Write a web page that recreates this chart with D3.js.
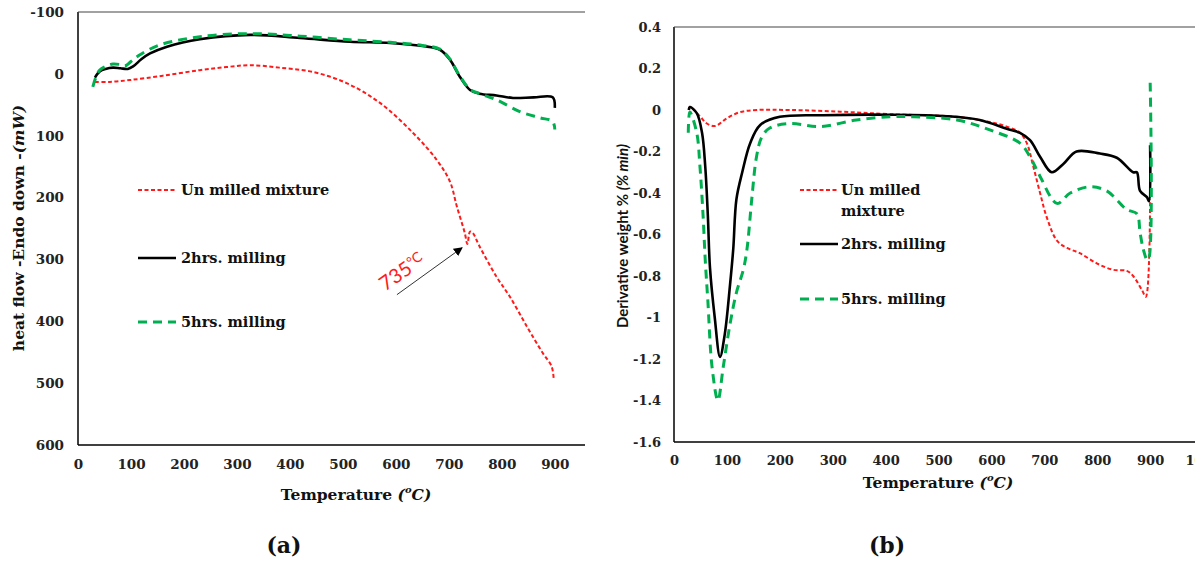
<!DOCTYPE html>
<html>
<head>
<meta charset="utf-8">
<script src="https://cdn.jsdelivr.net/npm/d3@7"></script>
<style>
  html, body { margin: 0; padding: 0; background: #fff; }
  svg { display: block; }
  .serif { font-family: "DejaVu Serif", "Liberation Serif", serif; font-weight: bold; }
  .sans { font-family: Lato, "Open Sans", sans-serif; }
</style>
</head>
<body>
<svg id="chart" width="1195" height="563"></svg>
<script>
// ---------- (a) DSC heat flow ----------
const tempUnmilledA = [32, 60, 98, 160, 230, 280, 325, 381, 444, 507, 570, 633, 677, 702, 715, 730, 735, 740, 745, 758, 790, 815, 847, 877, 894, 898];
const heatUnmilled  = [13, 13, 10, 3, -6, -11, -14, -10, -3, 15, 47, 96, 139, 174, 214, 257, 275, 255, 257, 279, 328, 360, 408, 451, 473, 494];

const temp2hA = [32, 41, 52, 66, 80, 94, 104, 120, 136, 168, 230, 325, 419, 513, 589, 650, 683, 702, 721, 740, 758, 790, 821, 860, 896, 900];
const heat2h  = [6, -4, -8, -10, -9, -8, -12, -24, -33, -44, -56, -63, -58, -52, -50, -45, -39, -23, 5, 26, 32, 35, 39, 38, 38, 55];

const temp5hA = [28, 34, 41, 55, 66, 80, 89, 100, 117, 155, 230, 325, 419, 513, 589, 650, 683, 702, 721, 740, 758, 790, 834, 872, 896, 900];
const heat5h  = [21, 5, -6, -13, -16, -15, -13, -20, -31, -47, -60, -65, -61, -55, -51, -46, -40, -24, 4, 25, 32, 42, 61, 71, 77, 90];

const ticksXA = [0, 100, 200, 300, 400, 500, 600, 700, 800, 900];
const ticksYA = [-100, 0, 100, 200, 300, 400, 500, 600];

// marker for the 735 °C peak
const peakTemp = 735;
const arrowFrom = [602, 357];
const arrowTo   = [725, 281];

// ---------- (b) DTG derivative weight ----------
const tempUnmilledB = [28, 30, 49, 62, 78, 100, 125, 157, 219, 314, 408, 535, 597, 629, 654, 667, 679, 692, 705, 724, 743, 767, 800, 830, 856, 868, 885, 892, 900];
const dtgUnmilled   = [0.0, 0.015, -0.03, -0.065, -0.077, -0.04, -0.01, 0.0, 0.0, -0.008, -0.02, -0.033, -0.058, -0.08, -0.11, -0.16, -0.27, -0.40, -0.52, -0.63, -0.665, -0.69, -0.74, -0.77, -0.775, -0.80, -0.87, -0.90, -0.43];

const temp2hB = [28, 30, 43, 53, 59, 64, 68, 77, 87, 96, 106, 112, 118, 129, 144, 163, 200, 282, 408, 516, 578, 629, 654, 673, 692, 714, 736, 761, 805, 837, 868, 875, 881, 894, 898, 900];
const dtg2h   = [0.0, 0.014, -0.015, -0.11, -0.27, -0.51, -0.76, -1.0, -1.19, -1.08, -0.84, -0.67, -0.43, -0.30, -0.16, -0.072, -0.033, -0.025, -0.023, -0.03, -0.048, -0.09, -0.11, -0.145, -0.225, -0.30, -0.26, -0.20, -0.21, -0.23, -0.30, -0.30, -0.39, -0.42, -0.44, -0.17];

const temp5hB = [27, 30, 43, 49, 55, 59, 64, 72, 83, 93, 106, 118, 131, 138, 147, 156, 166, 181, 219, 276, 345, 408, 452, 535, 597, 654, 673, 692, 724, 749, 786, 818, 856, 875, 881, 887, 894, 897, 900];
const dtg5h   = [-0.11, -0.01, -0.11, -0.27, -0.51, -0.72, -0.92, -1.24, -1.40, -1.24, -1.03, -0.88, -0.77, -0.67, -0.43, -0.225, -0.13, -0.087, -0.065, -0.08, -0.048, -0.033, -0.033, -0.048, -0.096, -0.16, -0.225, -0.32, -0.45, -0.40, -0.37, -0.39, -0.48, -0.50, -0.59, -0.67, -0.72, -0.72, 0.15];

const ticksXB = [0, 100, 200, 300, 400, 500, 600, 700, 800, 900, 1000];
const ticksYB = [0.4, 0.2, 0, -0.2, -0.4, -0.6, -0.8, -1, -1.2, -1.4, -1.6];

const seriesNames = ["Un milled mixture", "2hrs. milling", "5hrs. milling"];

// ---------- styles ----------
const styleUnmilled = { stroke: "#ff1a1a", width: 2, dash: "4,2.5" };
const style2h       = { stroke: "#000000", width: 2.6, dash: null };
const style5h       = { stroke: "#00b050", width: 3, dash: "9,6" };

const plainNumber = d => String(d);

const svg = d3.select("#chart");
svg.append("rect").attr("width", 1195).attr("height", 563).attr("fill", "#fff");

function zip(xs, ys) { return xs.map((x, i) => [x, ys[i]]); }

function drawSeries(g, x, y, pts, st) {
  const line = d3.line().x(d => x(d[0])).y(d => y(d[1])).curve(d3.curveCatmullRom.alpha(0.5));
  const p = g.append("path").datum(pts)
    .attr("d", line).attr("fill", "none")
    .attr("stroke", st.stroke).attr("stroke-width", st.width)
    .attr("stroke-linejoin", "round");
  if (st.dash) p.attr("stroke-dasharray", st.dash);
}

function legendLine(g, x1, x2, yy, st) {
  const l = g.append("line").attr("x1", x1).attr("x2", x2).attr("y1", yy).attr("y2", yy)
    .attr("stroke", st.stroke).attr("stroke-width", st.width);
  if (st.dash) l.attr("stroke-dasharray", st.dash);
}

function tempTitle(g, cx, cy) {
  const t = g.append("text").attr("class", "serif").attr("font-size", 15.5)
    .attr("x", cx).attr("y", cy).attr("text-anchor", "middle").attr("fill", "#111");
  t.append("tspan").text("Temperature ");
  t.append("tspan").attr("font-style", "italic").text("(");
  t.append("tspan").attr("font-style", "italic").attr("font-size", 10).attr("dy", -7).text("o");
  t.append("tspan").attr("font-style", "italic").attr("dy", 7).text("C)");
}

// ================= Panel (a) =================
{
  const x = d3.scaleLinear().domain([0, 957]).range([78, 585]);
  const y = d3.scaleLinear().domain([-100, 600]).range([12, 445]);
  const g = svg.append("g");

  // frame lines: left, bottom and top
  g.append("line").attr("x1", 78).attr("x2", 78).attr("y1", y(-100)).attr("y2", y(600)).attr("stroke", "#000").attr("stroke-width", 1.5);
  g.append("line").attr("x1", 78).attr("x2", x.range()[1]).attr("y1", y(600)).attr("y2", y(600)).attr("stroke", "#000").attr("stroke-width", 1.5);
  g.append("line").attr("x1", 78).attr("x2", x.range()[1]).attr("y1", y(-100)).attr("y2", y(-100)).attr("stroke", "#444").attr("stroke-width", 1.2);

  const ax = d3.axisBottom(x).tickValues(ticksXA).tickSize(0).tickPadding(14).tickFormat(plainNumber);
  g.append("g").attr("transform", `translate(0,${y(600)})`).call(ax)
    .call(s => s.select(".domain").remove())
    .selectAll("text").attr("class", "serif").attr("font-size", 13.5).attr("fill", "#222");
  const ay = d3.axisLeft(y).tickValues(ticksYA).tickSize(0).tickPadding(14).tickFormat(plainNumber);
  g.append("g").attr("transform", `translate(78,0)`).call(ay)
    .call(s => s.select(".domain").remove())
    .selectAll("text").attr("class", "serif").attr("font-size", 13.5).attr("fill", "#222");

  drawSeries(g, x, y, zip(tempUnmilledA, heatUnmilled), styleUnmilled);
  drawSeries(g, x, y, zip(temp2hA, heat2h), style2h);
  drawSeries(g, x, y, zip(temp5hA, heat5h), style5h);

  // axis titles
  tempTitle(g, 356, 500);

  const yt = g.append("text").attr("class", "serif").attr("font-size", 15.5)
    .attr("transform", "translate(24,228) rotate(-90)").attr("text-anchor", "middle").attr("fill", "#111");
  yt.append("tspan").text("heat flow -Endo down -");
  yt.append("tspan").attr("font-style", "italic").text("(mW)");

  // legend
  const lg = g.append("g");
  const legY = [190, 258, 322];
  const legStyles = [styleUnmilled, style2h, style5h];
  legY.forEach((ly, i) => {
    legendLine(lg, 138, 176, ly, legStyles[i]);
    lg.append("text").attr("class", "serif").attr("font-size", 14.5).attr("x", 181).attr("y", ly + 5)
      .attr("fill", "#111").text(seriesNames[i]);
  });

  // peak annotation
  const defs = svg.append("defs");
  defs.append("marker").attr("id", "arrowHead").attr("viewBox", "0 0 10 10")
    .attr("refX", 9).attr("refY", 5).attr("markerWidth", 9).attr("markerHeight", 9)
    .attr("orient", "auto-start-reverse").attr("markerUnits", "userSpaceOnUse")
    .append("path").attr("d", "M0,0 L10,5 L0,10 z").attr("fill", "#000");
  g.append("line")
    .attr("x1", x(arrowFrom[0])).attr("y1", y(arrowFrom[1]))
    .attr("x2", x(arrowTo[0])).attr("y2", y(arrowTo[1]))
    .attr("stroke", "#333").attr("stroke-width", 1).attr("marker-end", "url(#arrowHead)");
  const at = g.append("text").attr("class", "sans").attr("fill", "#ff1a1a")
    .attr("transform", `translate(${x(580)},${y(352)}) rotate(-35)`).attr("font-size", 20);
  at.append("tspan").text(String(peakTemp));
  at.append("tspan").attr("font-size", 14).attr("dy", -5).text("°C");
}

// ================= Panel (b) =================
{
  const x = d3.scaleLinear().domain([0, 1000]).range([674, 1203]);
  const y = d3.scaleLinear().domain([-1.6, 0.4]).range([442, 27]);
  const g = svg.append("g");

  g.append("line").attr("x1", 674).attr("x2", 674).attr("y1", y(0.4)).attr("y2", y(-1.6)).attr("stroke", "#000").attr("stroke-width", 1.5);
  g.append("line").attr("x1", 674).attr("x2", 1195).attr("y1", y(-1.6)).attr("y2", y(-1.6)).attr("stroke", "#000").attr("stroke-width", 1.5);
  g.append("line").attr("x1", 674).attr("x2", 1195).attr("y1", y(0.4)).attr("y2", y(0.4)).attr("stroke", "#444").attr("stroke-width", 1.2);

  const ax = d3.axisBottom(x).tickValues(ticksXB).tickSize(0).tickPadding(14).tickFormat(plainNumber);
  g.append("g").attr("transform", `translate(0,${y(-1.6)})`).call(ax)
    .call(s => s.select(".domain").remove())
    .selectAll("text").attr("class", "serif").attr("font-size", 13).attr("fill", "#222");
  const ay = d3.axisLeft(y).tickValues(ticksYB).tickSize(0).tickPadding(13).tickFormat(plainNumber);
  g.append("g").attr("transform", `translate(674,0)`).call(ay)
    .call(s => s.select(".domain").remove())
    .selectAll("text").attr("class", "serif").attr("font-size", 13).attr("fill", "#222");

  drawSeries(g, x, y, zip(tempUnmilledB, dtgUnmilled), styleUnmilled);
  drawSeries(g, x, y, zip(temp2hB, dtg2h), style2h);
  drawSeries(g, x, y, zip(temp5hB, dtg5h), style5h);

  tempTitle(g, 938, 488);

  const yt = g.append("text").attr("class", "sans").attr("font-weight", "bold").attr("font-size", 15)
    .attr("transform", "translate(628,236) rotate(-90)").attr("text-anchor", "middle").attr("fill", "#111");
  yt.append("tspan").text("Derivative weight % ");
  yt.append("tspan").attr("font-style", "italic").text("(% min)");

  const lg = g.append("g");
  legendLine(lg, 800, 838, 190, styleUnmilled);
  lg.append("text").attr("class", "serif").attr("font-size", 14.5).attr("x", 841).attr("y", 195).attr("fill", "#111").text("Un milled");
  lg.append("text").attr("class", "serif").attr("font-size", 14.5).attr("x", 841).attr("y", 216).attr("fill", "#111").text("mixture");
  legendLine(lg, 800, 838, 244, style2h);
  lg.append("text").attr("class", "serif").attr("font-size", 14.5).attr("x", 841).attr("y", 249).attr("fill", "#111").text(seriesNames[1]);
  legendLine(lg, 800, 838, 299, style5h);
  lg.append("text").attr("class", "serif").attr("font-size", 14.5).attr("x", 841).attr("y", 304).attr("fill", "#111").text(seriesNames[2]);
}

// panel captions
svg.append("text").attr("class", "serif").attr("font-size", 22).attr("x", 284).attr("y", 553)
  .attr("text-anchor", "middle").attr("fill", "#111").text("(a)");
svg.append("text").attr("class", "serif").attr("font-size", 22).attr("x", 887).attr("y", 553)
  .attr("text-anchor", "middle").attr("fill", "#111").text("(b)");
</script>
</body>
</html>
